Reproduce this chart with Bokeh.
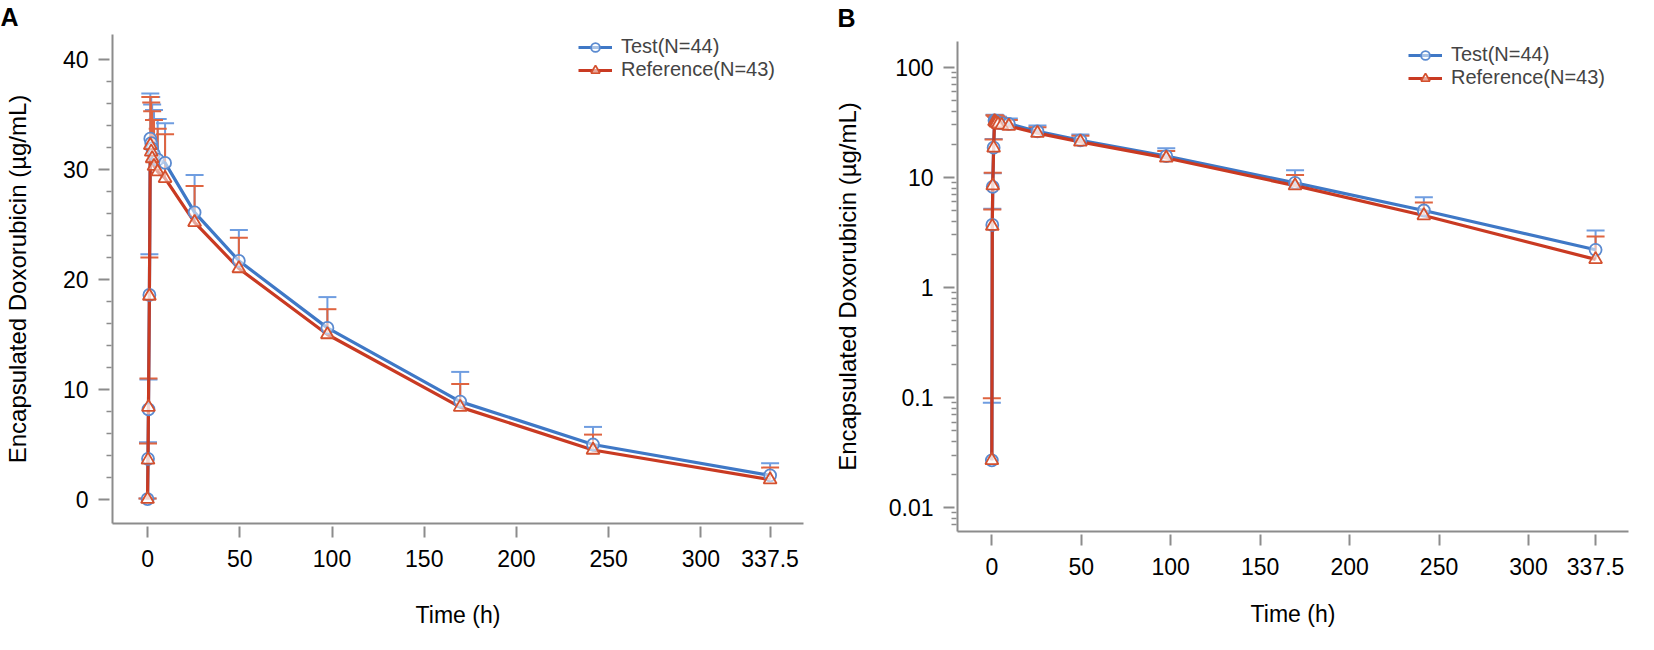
from bokeh.plotting import figure
from bokeh.models import (Range1d, FixedTicker, CustomJSTickFormatter, ColumnDataSource,
                          Whisker, TeeHead, Legend, LegendItem, Label)
from bokeh.layouts import row, column
from bokeh.embed import file_html
from bokeh.resources import INLINE

# ---------------- data ----------------
time_h = [0, 0.25, 0.5, 1, 1.5, 2, 2.5, 3.5, 5.5, 9.5, 25.5, 49.5, 97.5, 169.5, 241.5, 337.5]
test_mean = [0.027, 3.7, 8.2, 18.6, 32.8, 32.4, 31.9, 31.4, 30.9, 30.6, 26.1, 21.7, 15.6, 8.9, 5.0, 2.2]
test_sd = [0.063, 1.5, 2.7, 3.7, 4.1, 4.2, 4.0, 4.0, 3.7, 3.6, 3.4, 2.8, 2.8, 2.7, 1.6, 1.1]
ref_mean = [0.027, 3.6, 8.4, 18.5, 32.2, 31.6, 31.0, 30.3, 29.8, 29.2, 25.2, 21.0, 15.0, 8.4, 4.5, 1.8]
ref_sd = [0.072, 1.5, 2.6, 3.5, 4.4, 4.5, 4.3, 4.2, 3.9, 4.0, 3.3, 2.8, 2.3, 2.1, 1.4, 1.1]
series_labels = ["Test(N=44)", "Reference(N=43)"]
x_ticks = [0, 50, 100, 150, 200, 250, 300, 337.5]
yA_ticks = [0, 10, 20, 30, 40]
yA_minor = [v for v in range(2, 40, 2) if v % 10 != 0]
yB_ticks = [0.01, 0.1, 1, 10, 100]
yB_minor = [k * 10.0 ** e for e in range(-3, 3) for k in range(2, 10)]
panel_letters = ["A", "B"]
x_title = "Time (h)"
y_title = "Encapsulated Doxorubicin (\u00b5g/mL)"

FONT = "Liberation Sans"
BLUE_LINE = "#3f78c6"
RED_LINE = "#c93a22"
BLUE_ERR = "#6f9de0"
RED_ERR = "#df6440"
BLUE_MK = "#5a8ad0"
RED_MK = "#d4502e"
AXIS_C = "#8c8c8c"

HDR_H = 30


def make_header(letter, width, pos):
    h = figure(width=width, height=HDR_H, x_range=Range1d(0, width), y_range=Range1d(0, HDR_H),
               x_axis_location=None, y_axis_location=None, frame_align=False,
               toolbar_location=None, output_backend="svg",
               min_border_left=0, min_border_right=0, min_border_top=0, min_border_bottom=0)
    h.outline_line_color = None
    h.xgrid.visible = False
    h.ygrid.visible = False
    h.add_layout(Label(x=pos[0], y=pos[1], x_units="screen", y_units="screen",
                       text=letter, text_font=FONT, text_font_size="25px",
                       text_font_style="bold", text_color="black",
                       text_baseline="alphabetic", text_align="left"))
    return h


def make_panel(log, width, height, borders, xr, yr, legend_loc, xlab_standoff, ylab_standoff):
    bl, br, bt, bb = borders
    p = figure(width=width, height=height, x_range=Range1d(*xr), y_range=Range1d(*yr),
               y_axis_type="log" if log else "linear", frame_align=False,
               toolbar_location=None, output_backend="svg",
               min_border_left=bl, min_border_right=br, min_border_top=bt, min_border_bottom=bb)
    p.outline_line_color = None
    p.xgrid.visible = False
    p.ygrid.visible = False
    p.background_fill_color = "white"

    fmt = CustomJSTickFormatter(code="return tick.toString();")
    p.xaxis.ticker = FixedTicker(ticks=x_ticks, minor_ticks=[])
    if log:
        p.yaxis.ticker = FixedTicker(ticks=yB_ticks, minor_ticks=yB_minor)
    else:
        p.yaxis.ticker = FixedTicker(ticks=yA_ticks, minor_ticks=yA_minor)
    for ax in (p.xaxis, p.yaxis):
        ax.formatter = fmt
        ax.axis_line_color = AXIS_C
        ax.axis_line_width = 2
        ax.major_tick_line_color = AXIS_C
        ax.major_tick_line_width = 2
        ax.major_tick_in = -3
        ax.major_tick_out = 14
        ax.minor_tick_line_color = AXIS_C
        ax.minor_tick_line_width = 1.5
        ax.minor_tick_in = -1
        ax.minor_tick_out = 6
        ax.major_label_text_font = FONT
        ax.major_label_text_font_size = "23px"
        ax.major_label_text_color = "black"
        ax.axis_label_text_font = FONT
        ax.axis_label_text_font_style = "normal"
        ax.axis_label_text_color = "black"
    p.xaxis.axis_label_text_font_size = "23px"
    p.yaxis.axis_label_text_font_size = "24px"
    p.xaxis.major_label_standoff = 12
    p.yaxis.major_label_standoff = 10
    p.xaxis.axis_label = x_title
    p.yaxis.axis_label = y_title
    p.xaxis.axis_label_standoff = xlab_standoff
    p.yaxis.axis_label_standoff = ylab_standoff

    specs = [(test_mean, test_sd, BLUE_LINE, BLUE_ERR, BLUE_MK, "circle", 12),
             (ref_mean, ref_sd, RED_LINE, RED_ERR, RED_MK, "triangle", 13)]
    sources = []
    for mean, sd, lc, ec, mc, mk, ms in specs:
        src = ColumnDataSource(dict(t=time_h, mean=mean, up=[m + s for m, s in zip(mean, sd)]))
        sources.append(src)
        w = Whisker(source=src, base="t", lower="mean", upper="up", dimension="height",
                    line_color=ec, line_width=2, level="underlay",
                    upper_head=TeeHead(size=18, line_color=ec, line_width=2), lower_head=None)
        p.add_layout(w)
    lines = []
    for (mean, sd, lc, ec, mc, mk, ms), src in zip(specs, sources):
        lines.append(p.line("t", "mean", source=src, line_color=lc, line_width=3.2))
    marks = []
    for (mean, sd, lc, ec, mc, mk, ms), src in zip(specs, sources):
        marks.append(p.scatter("t", "mean", source=src, marker=mk, size=ms, line_color=mc,
                               line_width=1.8, fill_color="white", fill_alpha=0.55))

    items = [LegendItem(label=series_labels[i], renderers=[lines[i], marks[i]]) for i in range(2)]
    leg = Legend(items=items, location=legend_loc, background_fill_alpha=0,
                 border_line_color=None, glyph_width=34, glyph_height=22, label_height=16,
                 label_text_font=FONT, label_text_font_size="20px", label_standoff=9,
                 spacing=-3, padding=0, margin=0)
    p.add_layout(leg)
    return p


PANEL_H = 634 - HDR_H
hA = make_header(panel_letters[0], 830, (0, 14))
hB = make_header(panel_letters[1], 808, (7, 13))
pA = make_panel(False, 830, PANEL_H, (106, 27, 4, 111),
                (-19.0, 355.6), (-2.18, 42.27), (466, 442), 32, 29)
pB = make_panel(True, 808, PANEL_H, (126, 10, 11, 103),
                (-19.2, 355.9), (0.0061, 171), (451, 442), 23, 25)

layout = row(column(hA, pA), column(hB, pB))
open("out.html", "w").write(file_html(layout, INLINE))
